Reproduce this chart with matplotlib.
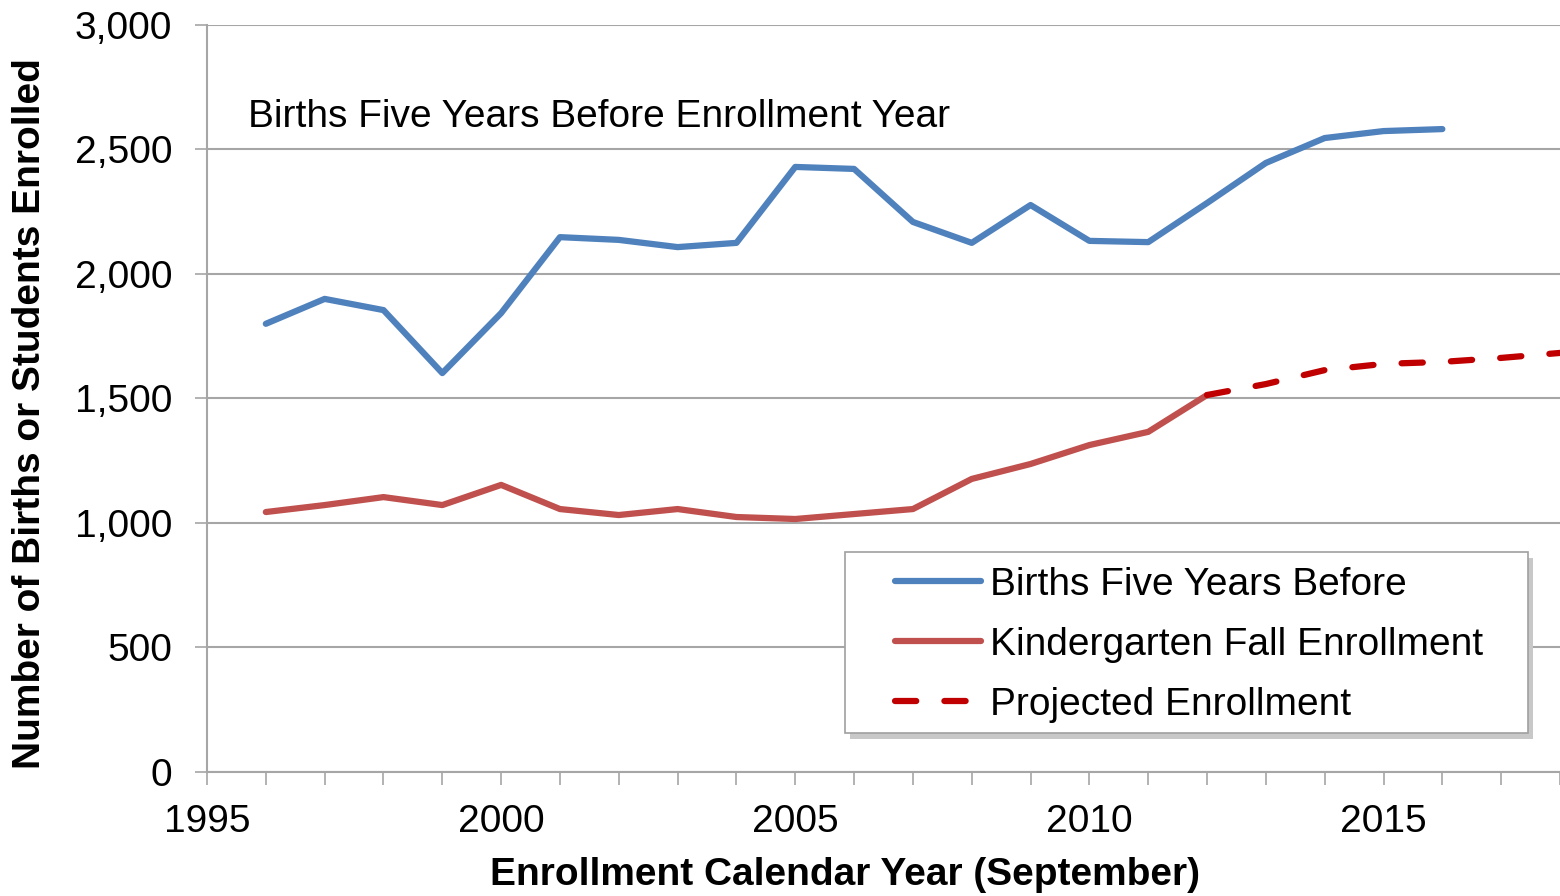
import numpy as np
import matplotlib
matplotlib.use("Agg")
import matplotlib.pyplot as plt
from matplotlib.patches import Rectangle
from matplotlib.ticker import FuncFormatter, MultipleLocator

# Data
YEARS = list(range(1996, 2017))
BIRTHS = [1800, 1900, 1855, 1602, 1843, 2148, 2137, 2108, 2125, 2430,
          2422, 2209, 2125, 2277, 2133, 2128, 2285, 2446, 2546, 2574, 2582]
K_YEARS = list(range(1996, 2013))
KINDER = [1044, 1072, 1104, 1072, 1153, 1056, 1032, 1056, 1024, 1016,
          1036, 1056, 1177, 1237, 1313, 1366, 1514]
P_YEARS = list(range(2012, 2019))
PROJECTED = [1514, 1558, 1614, 1639, 1647, 1663, 1683]

BLUE = "#4F81BD"
RED = "#C0504D"
DARKRED = "#C00000"
GRID = "#A6A6A6"
FS = 28
LW = 4.5

plt.rcParams["font.family"] = ["Liberation Sans", "DejaVu Sans"]

fig = plt.figure(figsize=(15.6, 8.96), dpi=100)
ax = fig.add_axes([0.1327, 0.1384, 0.8673, 0.8337])

ax.plot(YEARS, BIRTHS, color=BLUE, lw=LW, label="Births Five Years Before",
        solid_capstyle="round", solid_joinstyle="round", zorder=3)
ax.plot(K_YEARS, KINDER, color=RED, lw=LW, label="Kindergarten Fall Enrollment",
        solid_capstyle="round", solid_joinstyle="round", zorder=3)
ax.plot(P_YEARS, PROJECTED, color=DARKRED, lw=LW, ls=(0, (3.4, 4.5)),
        dash_capstyle="round", label="Projected Enrollment", zorder=3)

ax.set_xlim(1995, 2018)
ax.set_ylim(0, 3000)
ax.xaxis.set_major_locator(MultipleLocator(5))
ax.xaxis.set_minor_locator(MultipleLocator(1))
ax.yaxis.set_major_locator(MultipleLocator(500))
ax.yaxis.set_major_formatter(FuncFormatter(lambda v, p: f"{int(v):,}"))

ax.grid(axis="y", color=GRID, lw=1.5, zorder=0)
for s in ["top", "right"]:
    ax.spines[s].set_visible(False)
for s in ["left", "bottom"]:
    ax.spines[s].set_color(GRID)
    ax.spines[s].set_linewidth(1.5)

ax.tick_params(axis="x", which="both", direction="out", length=9, width=1.2,
               color=GRID, labelsize=FS, pad=14)
ax.tick_params(axis="y", which="major", direction="out", length=9, width=1.2,
               color=GRID, labelsize=FS, pad=16)

fig.text(0.5417, 0.0234, "Enrollment Calendar Year (September)", fontsize=FS,
         fontweight="bold", ha="center", va="center")
fig.text(0.0192, 0.538, "Number of Births or Students Enrolled", fontsize=FS,
         fontweight="bold", ha="center", va="center", rotation=90)

ax.text(1995.7, 2630, "Births Five Years Before Enrollment Year",
        fontsize=FS, va="center", ha="left")

# legend box with drop shadow, drawn in axes fraction
bx0, by0, bw, bh = 0.4715, 0.0522, 0.5048, 0.2423
ax.add_patch(Rectangle((bx0 + 0.004, by0 - 0.008), bw, bh, transform=ax.transAxes,
                       facecolor="#C8C8C8", edgecolor="none", zorder=4))
ax.add_patch(Rectangle((bx0, by0), bw, bh, transform=ax.transAxes,
                       facecolor="white", edgecolor="#A0A0A0", lw=1.2, zorder=5))
leg = ax.legend(loc="upper left", bbox_to_anchor=(0.5085, 0.275), fontsize=FS,
                frameon=False, handlelength=2.2, handletextpad=0.25,
                borderpad=0, borderaxespad=0, labelspacing=0.62)
leg.set_zorder(6)

fig.savefig("out.png", dpi=100)
